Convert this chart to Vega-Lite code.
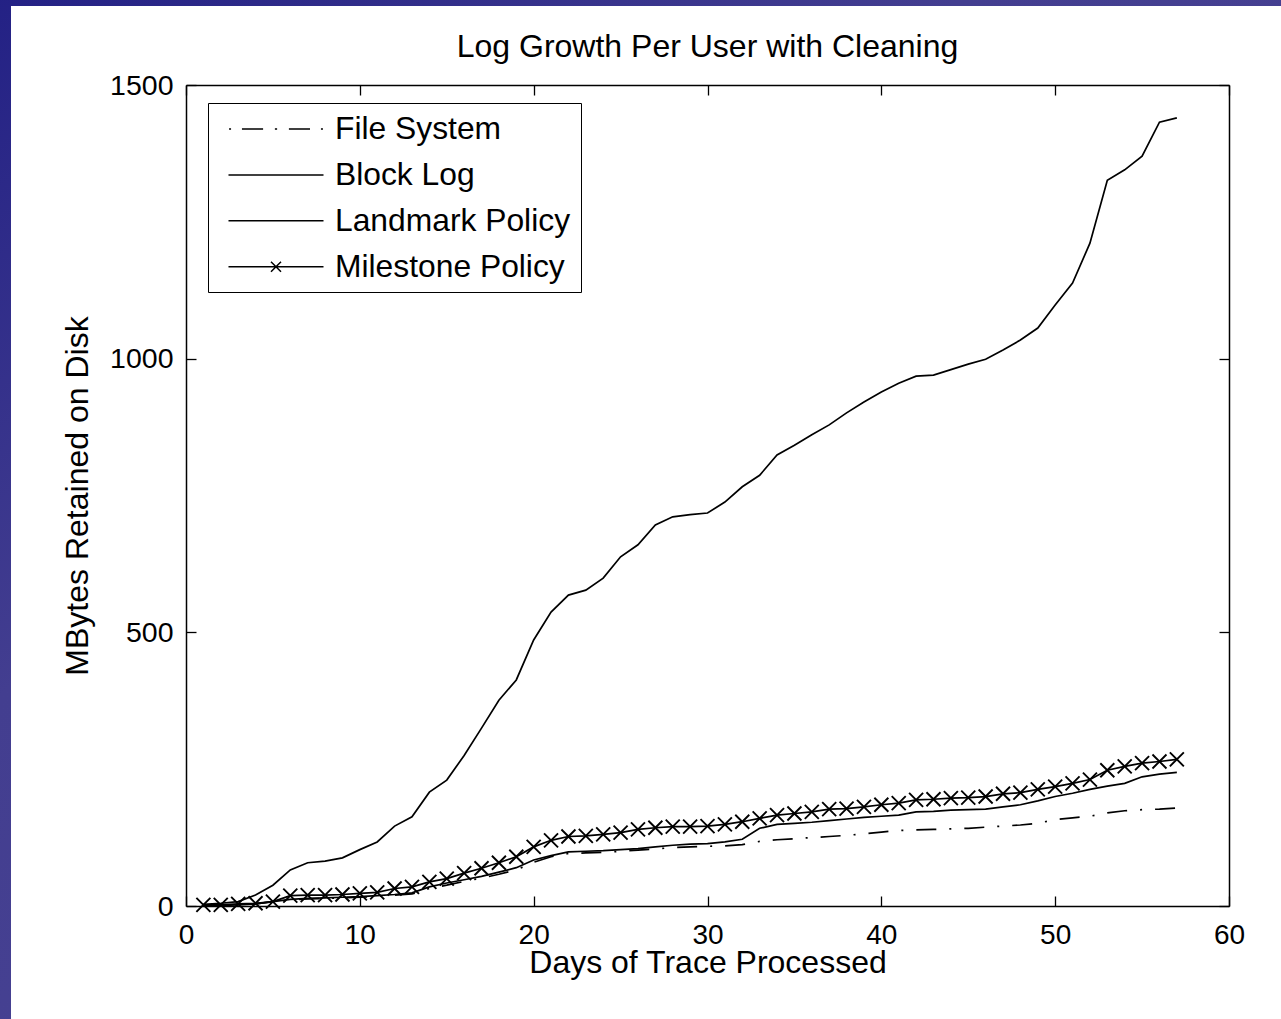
{
"$schema": "https://vega.github.io/schema/vega-lite/v6.json",
"width": 1043, "height": 821,
"autosize": {"type": "none"},
"padding": {"left": 186, "top": 85, "right": 52, "bottom": 113},
"background": "#3a3690",
"config": {"font": "Liberation Sans", "view": {"stroke": null}},
"title": {"text": "Log Growth Per User with Cleaning", "fontSize": 32, "fontWeight": "normal", "color": "black", "anchor": "middle", "frame": "group", "baseline": "alphabetic", "offset": -89},
"datasets": {
"main": [
{"day":1,"value":0,"series":"File System"},{"day":2,"value":1,"series":"File System"},{"day":3,"value":2,"series":"File System"},{"day":4,"value":4,"series":"File System"},{"day":5,"value":8,"series":"File System"},{"day":6,"value":11,"series":"File System"},{"day":7,"value":13,"series":"File System"},{"day":8,"value":14,"series":"File System"},{"day":9,"value":15,"series":"File System"},{"day":10,"value":16,"series":"File System"},
{"day":11,"value":18,"series":"File System"},{"day":12,"value":20,"series":"File System"},{"day":13,"value":22,"series":"File System"},{"day":14,"value":32,"series":"File System"},{"day":15,"value":38,"series":"File System"},{"day":16,"value":45,"series":"File System"},{"day":17,"value":51,"series":"File System"},{"day":18,"value":58,"series":"File System"},{"day":19,"value":66,"series":"File System"},{"day":20,"value":80,"series":"File System"},
{"day":21,"value":90,"series":"File System"},{"day":22,"value":96,"series":"File System"},{"day":23,"value":97,"series":"File System"},{"day":24,"value":98,"series":"File System"},{"day":25,"value":100,"series":"File System"},{"day":26,"value":102,"series":"File System"},{"day":27,"value":104,"series":"File System"},{"day":28,"value":107,"series":"File System"},{"day":29,"value":108,"series":"File System"},{"day":30,"value":109,"series":"File System"},
{"day":31,"value":110,"series":"File System"},{"day":32,"value":112,"series":"File System"},{"day":33,"value":118,"series":"File System"},{"day":34,"value":121,"series":"File System"},{"day":35,"value":123,"series":"File System"},{"day":36,"value":125,"series":"File System"},{"day":37,"value":127,"series":"File System"},{"day":38,"value":129,"series":"File System"},{"day":39,"value":132,"series":"File System"},{"day":40,"value":135,"series":"File System"},
{"day":41,"value":138,"series":"File System"},{"day":42,"value":139,"series":"File System"},{"day":43,"value":140,"series":"File System"},{"day":44,"value":141,"series":"File System"},{"day":45,"value":142,"series":"File System"},{"day":46,"value":144,"series":"File System"},{"day":47,"value":146,"series":"File System"},{"day":48,"value":148,"series":"File System"},{"day":49,"value":151,"series":"File System"},{"day":50,"value":158,"series":"File System"},
{"day":51,"value":161,"series":"File System"},{"day":52,"value":164,"series":"File System"},{"day":53,"value":170,"series":"File System"},{"day":54,"value":174,"series":"File System"},{"day":55,"value":176,"series":"File System"},{"day":56,"value":177,"series":"File System"},{"day":57,"value":179,"series":"File System"},
{"day":1,"value":3,"series":"Block Log"},{"day":2,"value":5,"series":"Block Log"},{"day":3,"value":8,"series":"Block Log"},{"day":4,"value":20,"series":"Block Log"},{"day":5,"value":38,"series":"Block Log"},{"day":6,"value":66,"series":"Block Log"},{"day":7,"value":79,"series":"Block Log"},{"day":8,"value":82,"series":"Block Log"},{"day":9,"value":88,"series":"Block Log"},{"day":10,"value":103,"series":"Block Log"},
{"day":11,"value":117,"series":"Block Log"},{"day":12,"value":146,"series":"Block Log"},{"day":13,"value":163,"series":"Block Log"},{"day":14,"value":208,"series":"Block Log"},{"day":15,"value":230,"series":"Block Log"},{"day":16,"value":275,"series":"Block Log"},{"day":17,"value":325,"series":"Block Log"},{"day":18,"value":376,"series":"Block Log"},{"day":19,"value":413,"series":"Block Log"},{"day":20,"value":486,"series":"Block Log"},
{"day":21,"value":537,"series":"Block Log"},{"day":22,"value":568,"series":"Block Log"},{"day":23,"value":577,"series":"Block Log"},{"day":24,"value":599,"series":"Block Log"},{"day":25,"value":638,"series":"Block Log"},{"day":26,"value":660,"series":"Block Log"},{"day":27,"value":696,"series":"Block Log"},{"day":28,"value":711,"series":"Block Log"},{"day":29,"value":715,"series":"Block Log"},{"day":30,"value":718,"series":"Block Log"},
{"day":31,"value":738,"series":"Block Log"},{"day":32,"value":766,"series":"Block Log"},{"day":33,"value":787,"series":"Block Log"},{"day":34,"value":824,"series":"Block Log"},{"day":35,"value":842,"series":"Block Log"},{"day":36,"value":861,"series":"Block Log"},{"day":37,"value":879,"series":"Block Log"},{"day":38,"value":901,"series":"Block Log"},{"day":39,"value":921,"series":"Block Log"},{"day":40,"value":939,"series":"Block Log"},
{"day":41,"value":955,"series":"Block Log"},{"day":42,"value":968,"series":"Block Log"},{"day":43,"value":970,"series":"Block Log"},{"day":44,"value":980,"series":"Block Log"},{"day":45,"value":990,"series":"Block Log"},{"day":46,"value":999,"series":"Block Log"},{"day":47,"value":1016,"series":"Block Log"},{"day":48,"value":1034,"series":"Block Log"},{"day":49,"value":1056,"series":"Block Log"},{"day":50,"value":1098,"series":"Block Log"},
{"day":51,"value":1138,"series":"Block Log"},{"day":52,"value":1211,"series":"Block Log"},{"day":53,"value":1326,"series":"Block Log"},{"day":54,"value":1345,"series":"Block Log"},{"day":55,"value":1370,"series":"Block Log"},{"day":56,"value":1432,"series":"Block Log"},{"day":57,"value":1440,"series":"Block Log"},
{"day":1,"value":0,"series":"Landmark Policy"},{"day":2,"value":1,"series":"Landmark Policy"},{"day":3,"value":2,"series":"Landmark Policy"},{"day":4,"value":4,"series":"Landmark Policy"},{"day":5,"value":8,"series":"Landmark Policy"},{"day":6,"value":12,"series":"Landmark Policy"},{"day":7,"value":14,"series":"Landmark Policy"},{"day":8,"value":15,"series":"Landmark Policy"},{"day":9,"value":16,"series":"Landmark Policy"},{"day":10,"value":17,"series":"Landmark Policy"},
{"day":11,"value":19,"series":"Landmark Policy"},{"day":12,"value":21,"series":"Landmark Policy"},{"day":13,"value":24,"series":"Landmark Policy"},{"day":14,"value":35,"series":"Landmark Policy"},{"day":15,"value":42,"series":"Landmark Policy"},{"day":16,"value":48,"series":"Landmark Policy"},{"day":17,"value":54,"series":"Landmark Policy"},{"day":18,"value":62,"series":"Landmark Policy"},{"day":19,"value":70,"series":"Landmark Policy"},{"day":20,"value":84,"series":"Landmark Policy"},
{"day":21,"value":92,"series":"Landmark Policy"},{"day":22,"value":99,"series":"Landmark Policy"},{"day":23,"value":100,"series":"Landmark Policy"},{"day":24,"value":101,"series":"Landmark Policy"},{"day":25,"value":103,"series":"Landmark Policy"},{"day":26,"value":105,"series":"Landmark Policy"},{"day":27,"value":108,"series":"Landmark Policy"},{"day":28,"value":111,"series":"Landmark Policy"},{"day":29,"value":113,"series":"Landmark Policy"},{"day":30,"value":114,"series":"Landmark Policy"},
{"day":31,"value":117,"series":"Landmark Policy"},{"day":32,"value":122,"series":"Landmark Policy"},{"day":33,"value":142,"series":"Landmark Policy"},{"day":34,"value":149,"series":"Landmark Policy"},{"day":35,"value":151,"series":"Landmark Policy"},{"day":36,"value":153,"series":"Landmark Policy"},{"day":37,"value":156,"series":"Landmark Policy"},{"day":38,"value":159,"series":"Landmark Policy"},{"day":39,"value":162,"series":"Landmark Policy"},{"day":40,"value":164,"series":"Landmark Policy"},
{"day":41,"value":166,"series":"Landmark Policy"},{"day":42,"value":172,"series":"Landmark Policy"},{"day":43,"value":173,"series":"Landmark Policy"},{"day":44,"value":175,"series":"Landmark Policy"},{"day":45,"value":176,"series":"Landmark Policy"},{"day":46,"value":177,"series":"Landmark Policy"},{"day":47,"value":181,"series":"Landmark Policy"},{"day":48,"value":185,"series":"Landmark Policy"},{"day":49,"value":192,"series":"Landmark Policy"},{"day":50,"value":200,"series":"Landmark Policy"},
{"day":51,"value":206,"series":"Landmark Policy"},{"day":52,"value":213,"series":"Landmark Policy"},{"day":53,"value":219,"series":"Landmark Policy"},{"day":54,"value":224,"series":"Landmark Policy"},{"day":55,"value":236,"series":"Landmark Policy"},{"day":56,"value":241,"series":"Landmark Policy"},{"day":57,"value":244,"series":"Landmark Policy"},
{"day":1,"value":2,"series":"Milestone Policy"},{"day":2,"value":2,"series":"Milestone Policy"},{"day":3,"value":4,"series":"Milestone Policy"},{"day":4,"value":5,"series":"Milestone Policy"},{"day":5,"value":8,"series":"Milestone Policy"},{"day":6,"value":19,"series":"Milestone Policy"},{"day":7,"value":20,"series":"Milestone Policy"},{"day":8,"value":20,"series":"Milestone Policy"},{"day":9,"value":21,"series":"Milestone Policy"},{"day":10,"value":23,"series":"Milestone Policy"},
{"day":11,"value":25,"series":"Milestone Policy"},{"day":12,"value":32,"series":"Milestone Policy"},{"day":13,"value":35,"series":"Milestone Policy"},{"day":14,"value":44,"series":"Milestone Policy"},{"day":15,"value":50,"series":"Milestone Policy"},{"day":16,"value":60,"series":"Milestone Policy"},{"day":17,"value":69,"series":"Milestone Policy"},{"day":18,"value":79,"series":"Milestone Policy"},{"day":19,"value":90,"series":"Milestone Policy"},{"day":20,"value":108,"series":"Milestone Policy"},
{"day":21,"value":120,"series":"Milestone Policy"},{"day":22,"value":127,"series":"Milestone Policy"},{"day":23,"value":128,"series":"Milestone Policy"},{"day":24,"value":131,"series":"Milestone Policy"},{"day":25,"value":134,"series":"Milestone Policy"},{"day":26,"value":140,"series":"Milestone Policy"},{"day":27,"value":143,"series":"Milestone Policy"},{"day":28,"value":145,"series":"Milestone Policy"},{"day":29,"value":145,"series":"Milestone Policy"},{"day":30,"value":146,"series":"Milestone Policy"},
{"day":31,"value":149,"series":"Milestone Policy"},{"day":32,"value":154,"series":"Milestone Policy"},{"day":33,"value":160,"series":"Milestone Policy"},{"day":34,"value":166,"series":"Milestone Policy"},{"day":35,"value":169,"series":"Milestone Policy"},{"day":36,"value":172,"series":"Milestone Policy"},{"day":37,"value":177,"series":"Milestone Policy"},{"day":38,"value":178,"series":"Milestone Policy"},{"day":39,"value":181,"series":"Milestone Policy"},{"day":40,"value":185,"series":"Milestone Policy"},
{"day":41,"value":188,"series":"Milestone Policy"},{"day":42,"value":194,"series":"Milestone Policy"},{"day":43,"value":195,"series":"Milestone Policy"},{"day":44,"value":197,"series":"Milestone Policy"},{"day":45,"value":198,"series":"Milestone Policy"},{"day":46,"value":200,"series":"Milestone Policy"},{"day":47,"value":205,"series":"Milestone Policy"},{"day":48,"value":207,"series":"Milestone Policy"},{"day":49,"value":213,"series":"Milestone Policy"},{"day":50,"value":218,"series":"Milestone Policy"},
{"day":51,"value":224,"series":"Milestone Policy"},{"day":52,"value":231,"series":"Milestone Policy"},{"day":53,"value":248,"series":"Milestone Policy"},{"day":54,"value":255,"series":"Milestone Policy"},{"day":55,"value":261,"series":"Milestone Policy"},{"day":56,"value":264,"series":"Milestone Policy"},{"day":57,"value":268,"series":"Milestone Policy"}
],
"keys": [{"series":"File System"},{"series":"Block Log"},{"series":"Landmark Policy"},{"series":"Milestone Policy"}]
},
"layer": [
{"data": {"values": [{}]},
 "mark": {"type": "rect", "fill": {"gradient": "linear", "x1": 0, "y1": 0, "x2": 1, "y2": 1, "stops": [{"offset": 0, "color": "#211f84"}, {"offset": 0.35, "color": "#433e90"}, {"offset": 1, "color": "#4c4795"}]}},
 "encoding": {
  "x": {"datum": -15, "type": "quantitative", "scale": {"domain": [0, 60], "nice": false, "zero": false}, "axis": null},
  "x2": {"datum": 70},
  "y": {"datum": -300, "type": "quantitative", "scale": {"domain": [0, 1500], "nice": false, "zero": false}, "axis": null},
  "y2": {"datum": 1655.3}}},
{"data": {"values": [{}]},
 "mark": {"type": "rect", "fill": "white"},
 "encoding": {
  "x": {"datum": -10.067, "type": "quantitative", "scale": {"domain": [0, 60], "nice": false, "zero": false}, "axis": null},
  "x2": {"datum": 70},
  "y": {"datum": -300, "type": "quantitative", "scale": {"domain": [0, 1500], "nice": false, "zero": false}, "axis": null},
  "y2": {"datum": 1644.3}}},
{"data": {"name": "main"},
 "transform": [{"filter": "datum.series !== 'File System'"}],
 "mark": {"type": "line", "color": "black", "strokeWidth": 1.7},
 "encoding": {
  "x": {"field": "day", "type": "quantitative", "scale": {"domain": [0, 60], "nice": false, "zero": false},
        "axis": {"orient": "bottom", "values": [0, 10, 20, 30, 40, 50, 60], "grid": false, "domain": true, "domainColor": "black", "domainWidth": 1.5, "ticks": true, "tickSize": -10, "tickColor": "black", "tickWidth": 1.3, "labelPadding": 25, "labelFontSize": 28, "labelColor": "black", "labelFlush": false, "labelOverlap": false, "title": "Days of Trace Processed", "titleFontSize": 32, "titleFontWeight": "normal", "titleColor": "black", "titleBaseline": "alphabetic", "titleY": 66, "zindex": 1}},
  "y": {"field": "value", "type": "quantitative", "scale": {"domain": [0, 1500], "nice": false, "zero": false},
        "axis": {"orient": "left", "values": [0, 500, 1000, 1500], "format": "d", "grid": false, "domain": true, "domainColor": "black", "domainWidth": 1.5, "ticks": true, "tickSize": -10, "tickColor": "black", "tickWidth": 1.3, "labelPadding": 23, "labelFontSize": 28.5, "labelColor": "black", "labelOverlap": false, "title": "MBytes Retained on Disk", "titleFontSize": 32, "titleFontWeight": "normal", "titleColor": "black", "titleBaseline": "alphabetic", "titleX": -99, "zindex": 1}},
  "detail": {"field": "series"}}},
{"data": {"name": "main"},
 "transform": [{"filter": "datum.series === 'File System'"}],
 "mark": {"type": "line", "color": "black", "strokeWidth": 1.7, "strokeDash": [20, 13, 2, 13]},
 "encoding": {
  "x": {"field": "day", "type": "quantitative", "scale": {"domain": [0, 60], "nice": false, "zero": false}, "axis": null},
  "y": {"field": "value", "type": "quantitative", "scale": {"domain": [0, 1500], "nice": false, "zero": false}, "axis": null}}},
{"data": {"name": "main"},
 "transform": [{"filter": "datum.series === 'Milestone Policy'"}],
 "mark": {"type": "point", "shape": "M-1,-1L1,1M-1,1L1,-1", "size": 196, "filled": false, "color": "black", "strokeWidth": 1.9, "opacity": 1},
 "encoding": {
  "x": {"field": "day", "type": "quantitative", "scale": {"domain": [0, 60], "nice": false, "zero": false},
        "axis": {"orient": "top", "values": [0, 10, 20, 30, 40, 50, 60], "grid": false, "labels": false, "domain": true, "domainColor": "black", "domainWidth": 1.5, "ticks": true, "tickSize": -10, "tickColor": "black", "tickWidth": 1.3, "title": null, "zindex": 1}},
  "y": {"field": "value", "type": "quantitative", "scale": {"domain": [0, 1500], "nice": false, "zero": false},
        "axis": {"orient": "right", "values": [0, 500, 1000, 1500], "grid": false, "labels": false, "domain": true, "domainColor": "black", "domainWidth": 1.5, "ticks": true, "tickSize": -10, "tickColor": "black", "tickWidth": 1.3, "title": null, "zindex": 1}}}},
{"data": {"name": "keys"},
 "mark": {"type": "point", "filled": false, "color": "black", "strokeWidth": 1.5, "opacity": 1},
 "encoding": {
  "x": {"field": "day", "type": "quantitative", "scale": {"domain": [0, 60], "nice": false, "zero": false}, "axis": null},
  "y": {"field": "value", "type": "quantitative", "scale": {"domain": [0, 1500], "nice": false, "zero": false}, "axis": null},
  "shape": {"field": "series", "type": "nominal",
    "scale": {"domain": ["File System", "Block Log", "Landmark Policy", "Milestone Policy"],
              "range": ["M13.43,0M-2.11,0H-2.02M-1.53,0H-0.58M-0.05,0H0.05M0.58,0H1.53M2.02,0H2.11",
                        "M13.43,0M-2.135,0H2.135",
                        "M13.43,0M-2.135,0H2.135",
                        "M13.43,0M0,0.84M-2.135,0H2.135M-0.225,-0.225L0.225,0.225M-0.225,0.225L0.225,-0.225"]},
    "legend": {"title": null, "orient": "none", "legendX": 22, "legendY": 18, "direction": "vertical", "padding": 3, "strokeColor": "black", "fillColor": "white", "symbolSize": 1980.25, "symbolStrokeWidth": 1.5, "symbolStrokeColor": "black", "symbolFillColor": "transparent", "symbolOffset": 42, "labelOffset": 36, "labelFontSize": 31.8, "labelColor": "black", "labelLimit": 600, "rowPadding": 5.9, "zindex": 2}}}}
],
"resolve": {"axis": {"x": "independent", "y": "independent"}}
}
